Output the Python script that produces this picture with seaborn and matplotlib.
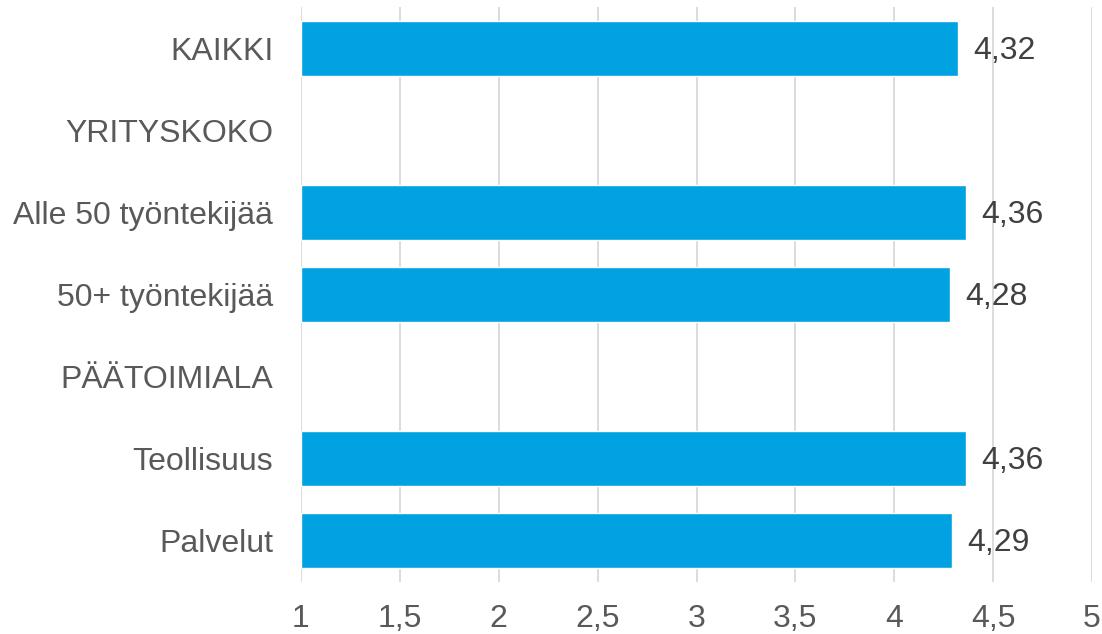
import pandas as pd
import matplotlib.pyplot as plt
import seaborn as sns

categories = ["KAIKKI", "YRITYSKOKO", "Alle 50 työntekijää", "50+ työntekijää",
              "PÄÄTOIMIALA", "Teollisuus", "Palvelut"]
values = [4.32, None, 4.36, 4.28, None, 4.36, 4.29]
xticks = [1, 1.5, 2, 2.5, 3, 3.5, 4, 4.5, 5]

sns.set_style("white")
plt.rcParams['font.family'] = ['Liberation Sans', 'DejaVu Sans']

df = pd.DataFrame({"kategoria": categories, "arvo": values})

fig = plt.figure(figsize=(11.02, 6.34), dpi=100)
ax = fig.add_axes([0.2731, 0.082, 0.7179, 0.907])

for x in xticks:
    ax.axvline(x, color="#d9d9d9", lw=1.3, zorder=0)

sns.barplot(data=df, x="arvo", y="kategoria", order=categories, color="#00a2e1",
            width=0.67, saturation=1, ax=ax, orient="h", zorder=2)

# bars start from 1
for p in ax.patches:
    w = p.get_width()
    if w == w and w > 0:
        p.set_x(1)
        p.set_width(w - 1)

for i, v in enumerate(values):
    if v is not None:
        ax.text(v + 0.08, i + 0.03, f"{v:.2f}".replace(".", ","), va="center",
                ha="left", fontsize=23, color="#404040")

ax.set_xlim(1, 5)
ax.set_ylim(6.5, -0.5)
ax.set_xticks(xticks)
ax.set_xticklabels([f"{t:g}".replace(".", ",") for t in xticks])
ax.tick_params(axis="x", labelsize=23, labelcolor="#595959", length=0, pad=16)
ax.tick_params(axis="y", labelsize=23, labelcolor="#595959", length=0, pad=20)
ax.set_xlabel("")
ax.set_ylabel("")
for s in ax.spines.values():
    s.set_visible(False)

fig.savefig("out.png", dpi=100)
